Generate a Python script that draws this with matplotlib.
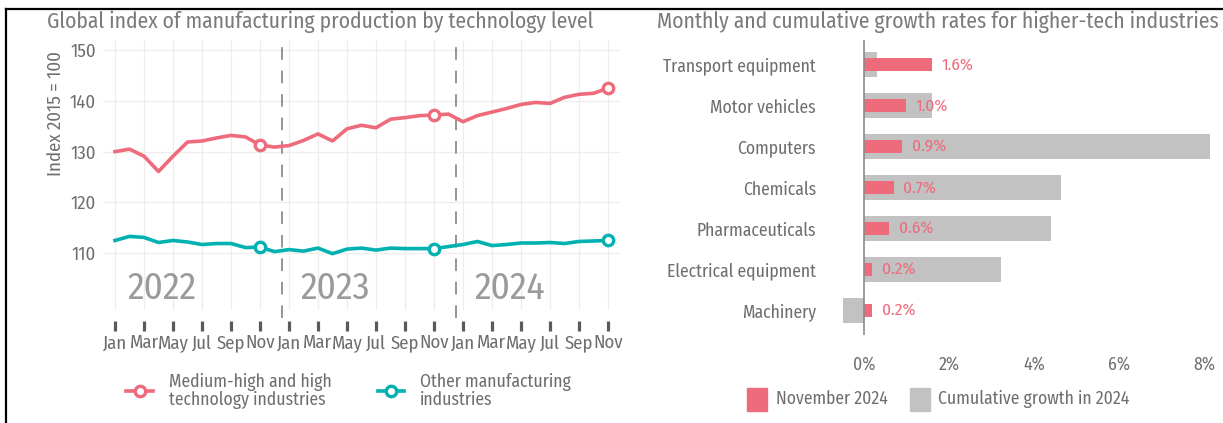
import numpy as np
import matplotlib
matplotlib.use("Agg")
import matplotlib.pyplot as plt
from matplotlib.lines import Line2D
from matplotlib.patches import Rectangle

plt.rcParams['font.family'] = ['Fira Sans Condensed', 'Roboto Condensed', 'DejaVu Sans']

RED = '#ee6b7b'
TEAL = '#00b1b1'
GREY_BAR = '#c2c2c2'
TXT = '#6e6e6e'

# left panel data: monthly index Jan 2022 .. Nov 2024
high_tech = [130.0, 130.5, 129.1, 126.1, 129.1, 131.9, 132.1, 132.7, 133.2, 132.9, 131.3, 130.9,
             131.2, 132.2, 133.5, 132.1, 134.5, 135.2, 134.7, 136.4, 136.7, 137.1, 137.2, 137.4,
             135.9, 137.1, 137.8, 138.5, 139.3, 139.7, 139.5, 140.7, 141.3, 141.5, 142.5]
other_manuf = [112.5, 113.3, 113.1, 112.1, 112.5, 112.2, 111.7, 111.9, 111.9, 111.1, 111.2, 110.3,
               110.7, 110.4, 111.0, 109.9, 110.8, 111.0, 110.6, 111.0, 110.9, 110.9, 110.9, 111.3,
               111.7, 112.3, 111.5, 111.7, 112.0, 112.0, 112.1, 111.9, 112.3, 112.4, 112.5]
month_labels = ['Jan', 'Mar', 'May', 'Jul', 'Sep', 'Nov'] * 3
years = ['2022', '2023', '2024']
marked = [10, 22, 34]  # november of each year
series_names = ['Medium-high and high\ntechnology industries', 'Other manufacturing\nindustries']

# right panel data
industries = ['Transport equipment', 'Motor vehicles', 'Computers', 'Chemicals',
              'Pharmaceuticals', 'Electrical equipment', 'Machinery']
nov_2024 = [1.6, 1.0, 0.9, 0.7, 0.6, 0.2, 0.2]
cumul_2024 = [0.32, 1.61, 8.12, 4.62, 4.40, 3.22, -0.50]
bar_names = ['November 2024', 'Cumulative growth in 2024']

W, H = 1223, 423
fig = plt.figure(figsize=(W / 100, H / 100), dpi=100)

def box(x0, y0, x1, y1):
    # pixel box -> figure fraction
    return [x0 / W, 1 - y1 / H, (x1 - x0) / W, (y1 - y0) / H]

def fx(px):
    return px / W

def fy(py):
    return 1 - py / H

# ---------------- left: line chart ----------------
ax = fig.add_axes(box(103, 40, 620, 310))
months = np.arange(len(high_tech))
for vals, col in [(high_tech, RED), (other_manuf, TEAL)]:
    ax.plot(months, vals, color=col, lw=2.6, solid_joinstyle='round', zorder=3)
    ax.plot(months[marked], np.array(vals)[marked], 'o', ms=7.5, mfc='white', mec=col, mew=2.4, zorder=4)

for xv in [11.5, 23.5]:
    ax.axvline(xv, ymin=-0.03, color='#8c8c8c', lw=1.3, dashes=(7, 6), clip_on=False, zorder=2)

for i, yr in enumerate(years):
    ax.text(3.2 + 12 * i, 103.0, yr, fontsize=27, color='#9a9a9a', ha='center', va='center')

ax.set_xlim(-0.83, 34.83)
ax.set_ylim(98.8, 152)
ax.set_yticks([110, 120, 130, 140, 150])
ax.set_xticks(months[::2])
ax.set_xticklabels(month_labels)
ax.grid(True, color='#ededed', lw=0.9)
ax.set_axisbelow(True)
for s in ax.spines.values():
    s.set_visible(False)
ax.spines['bottom'].set_position(('outward', 8))
ax.tick_params(axis='x', length=7.5, width=2.3, color='#5a5a5a', labelsize=13.5, labelcolor=TXT, pad=2)
ax.tick_params(axis='y', length=0, labelsize=13.5, labelcolor=TXT, pad=5)

fig.text(fx(47), fy(22), 'Global index of manufacturing production by technology level',
         fontsize=15.5, color='#7a7a7a', ha='left', va='center')
fig.text(fx(56), fy(114), 'Index 2015 = 100', rotation=90, fontsize=13.5, color=TXT,
         ha='center', va='center')

# legend drawn by hand so it sits where the original has it
for (x0, x1, tx), col, name in zip([(126, 153, 169), (378, 404, 420)], [RED, TEAL], series_names):
    fig.add_artist(Line2D([fx(x0), fx(x1)], [fy(391), fy(391)], color=col, lw=2.6,
                          transform=fig.transFigure))
    fig.add_artist(Line2D([fx((x0 + x1) / 2)], [fy(391)], marker='o', ms=7.5, mfc='white', mec=col,
                          mew=2.4, transform=fig.transFigure))
    fig.text(fx(tx), fy(391), name, fontsize=12.7, color=TXT, ha='left', va='center', linespacing=0.95)

# ---------------- right: bar chart ----------------
bx = fig.add_axes(box(834, 40, 1213, 335))
ypos = np.arange(len(industries))
bx.barh(ypos, cumul_2024, height=0.61, color=GREY_BAR, zorder=1)
bx.barh(ypos, nov_2024, height=0.33, color=RED, zorder=2)
for y, v in zip(ypos, nov_2024):
    bx.text(v + 0.22, y, f'{v:.1f}%', color=RED, fontsize=12.5, ha='left', va='center', zorder=3)
bx.axvline(0, color='#8a8a8a', lw=1.2, zorder=3)
bx.set_xlim(-0.7, 8.2)
bx.set_ylim(6.6, -0.6)
bx.set_yticks(ypos)
bx.set_yticklabels(industries)
bx.set_xticks([0, 2, 4, 6, 8])
bx.set_xticklabels(['0%', '2%', '4%', '6%', '8%'])
for s in bx.spines.values():
    s.set_visible(False)
bx.tick_params(axis='y', length=0, labelsize=12.7, labelcolor=TXT, pad=13)
bx.tick_params(axis='x', length=0, labelsize=12.7, labelcolor=TXT, pad=15)

fig.text(fx(657), fy(22), 'Monthly and cumulative growth rates for higher-tech industries',
         fontsize=15.5, color='#7a7a7a', ha='left', va='center')

for (x0, tx), col, name in zip([(747, 776), (910, 938)], [RED, GREY_BAR], bar_names):
    fig.add_artist(Rectangle((fx(x0), fy(411)), 20 / W, 23 / H, color=col, transform=fig.transFigure))
    fig.text(fx(tx), fy(399), name, fontsize=12.7, color=TXT, ha='left', va='center')

# frame lines on the top and left of the picture
fig.add_artist(Line2D([fx(6), 1], [fy(9), fy(9)], color='black', lw=1.6, transform=fig.transFigure))
fig.add_artist(Line2D([fx(6), fx(6)], [0, fy(9)], color='black', lw=1.6, transform=fig.transFigure))

fig.savefig('out.png', dpi=100, facecolor='white')
